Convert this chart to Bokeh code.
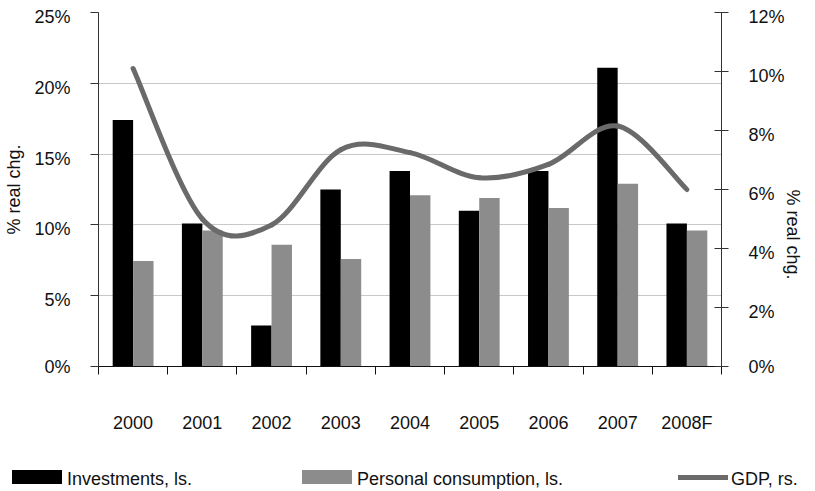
import math
from bokeh.plotting import figure
from bokeh.layouts import column
from bokeh.models import ColumnDataSource, Range1d, LinearAxis, FixedTicker, Div
from bokeh.transform import dodge
from bokeh.embed import file_html
from bokeh.resources import INLINE

# ---------------- data ----------------
years = ["2000", "2001", "2002", "2003", "2004", "2005", "2006", "2007", "2008F"]
investments = [17.4, 10.1, 2.9, 12.5, 13.8, 11.0, 13.8, 21.1, 10.1]
consumption = [7.45, 9.6, 8.6, 7.6, 12.1, 11.9, 11.2, 12.9, 9.6]
gdp = [10.1, 5.0, 4.8, 7.35, 7.25, 6.4, 6.85, 8.15, 6.0]

left_ticks = [0, 5, 10, 15, 20, 25]
left_tick_labels = ["0%", "5%", "10%", "15%", "20%", "25%"]
right_ticks = [0, 2, 4, 6, 8, 10, 12]
right_tick_labels = ["0%", "2%", "4%", "6%", "8%", "10%", "12%"]
axis_title = "% real chg."
series_names = ["Investments, ls.", "Personal consumption, ls.", "GDP, rs."]

FONT = "Liberation Sans"
TXT = "#111111"
AX = "#333333"
BLACK, GREY, LINE = "#000000", "#8c8c8c", "#6a6a6a"

n = len(years)
xc = [i + 0.5 for i in range(n)]          # category centres on a numeric axis
src = ColumnDataSource(dict(xc=xc, year=years, inv=investments, cons=consumption))

LMAX, RMAX = 25, 12
p = figure(x_range=Range1d(0, n), y_range=Range1d(0, LMAX), width=815, height=462,
           output_backend="svg", toolbar_location=None,
           x_axis_location="below", y_axis_location="left",
           min_border_left=98, min_border_right=85, min_border_top=12, min_border_bottom=96)
p.outline_line_color = None
p.background_fill_color = "white"
p.border_fill_color = "white"

# label axes are drawn on ranges offset a few pixels so the labels sit just below the ticks
lshift = 0.318   # ~4.5 px on the left scale
rshift = 0.153   # ~4.5 px on the right scale
p.extra_y_ranges = {"gdp": Range1d(0, RMAX),
                    "lbl": Range1d(lshift, LMAX + lshift),
                    "glbl": Range1d(rshift, RMAX + rshift)}

# grid
p.xgrid.visible = False
p.ygrid.ticker = FixedTicker(ticks=left_ticks)
p.ygrid.grid_line_color = "#c8c8c8"
p.ygrid.grid_line_width = 1


def blank(ticks):
    return {t: "" for t in ticks}


# left axis: line + ticks
ya = p.yaxis[0]
ya.ticker = FixedTicker(ticks=left_ticks)
ya.major_tick_out = 8
ya.major_tick_in = 0
ya.minor_tick_line_color = None
ya.major_label_overrides = blank(left_ticks)
ya.major_label_standoff = 0
ya.axis_line_color = AX
ya.major_tick_line_color = AX

# left axis: labels + title (the lowest label is kept at the range start)
yl_ticks = [max(t, lshift) for t in left_ticks]
yl = LinearAxis(y_range_name="lbl", ticker=FixedTicker(ticks=yl_ticks),
                major_label_overrides=dict(zip(yl_ticks, left_tick_labels)),
                major_tick_line_color=None, minor_tick_line_color=None, axis_line_color=None,
                major_label_standoff=14, bounds=(lshift, LMAX),
                major_label_text_font=FONT, major_label_text_font_size="18px",
                major_label_text_color=TXT,
                axis_label=axis_title, axis_label_standoff=7,
                axis_label_text_font=FONT, axis_label_text_font_size="18px",
                axis_label_text_font_style="normal", axis_label_text_color=TXT)
p.add_layout(yl, "left")

# right axis: line + ticks
ra = LinearAxis(y_range_name="gdp", ticker=FixedTicker(ticks=right_ticks),
                major_tick_out=7, major_tick_in=7, minor_tick_line_color=None,
                major_label_overrides=blank(right_ticks), major_label_standoff=0,
                axis_line_color=AX, major_tick_line_color=AX)
p.add_layout(ra, "right")

# right axis: labels
rl_ticks = [max(t, rshift) for t in right_ticks]
rl = LinearAxis(y_range_name="glbl", ticker=FixedTicker(ticks=rl_ticks),
                major_label_overrides=dict(zip(rl_ticks, right_tick_labels)),
                major_tick_line_color=None, minor_tick_line_color=None, axis_line_color=None,
                major_label_standoff=14, bounds=(rshift, RMAX),
                major_label_text_font=FONT, major_label_text_font_size="18px",
                major_label_text_color=TXT)
p.add_layout(rl, "right")

# right axis: title only (reads bottom-to-top like the left one)
rt = LinearAxis(y_range_name="gdp", ticker=FixedTicker(ticks=[]),
                major_tick_line_color=None, minor_tick_line_color=None, axis_line_color=None,
                major_label_standoff=0, bounds=(2.4, RMAX),
                axis_label=axis_title, axis_label_standoff=5,
                axis_label_text_font=FONT, axis_label_text_font_size="18px",
                axis_label_text_font_style="normal", axis_label_text_color=TXT)
try:
    rt.axis_label_orientation = -math.pi / 2
except Exception:
    pass
p.add_layout(rt, "right")

# bottom axis: line + ticks at category boundaries
xa = p.xaxis[0]
xa.ticker = FixedTicker(ticks=list(range(n + 1)))
xa.major_tick_out = 8
xa.major_tick_in = 0
xa.minor_tick_line_color = None
xa.major_label_overrides = blank(list(range(n + 1)))
xa.major_label_standoff = 0
xa.axis_line_color = "#111111"
xa.major_tick_line_color = "#111111"

# bottom axis: year labels at category centres
xl = LinearAxis(ticker=FixedTicker(ticks=xc),
                major_label_overrides=dict(zip(xc, years)),
                major_tick_line_color=None, minor_tick_line_color=None, axis_line_color=None,
                major_label_standoff=32,
                major_label_text_font=FONT, major_label_text_font_size="18px",
                major_label_text_color=TXT)
p.add_layout(xl, "below")

# bars
bw = 0.295
p.vbar(x=dodge("xc", -bw / 2), top="inv", width=bw, bottom=0,
       source=src, fill_color=BLACK, line_color=None)
p.vbar(x=dodge("xc", bw / 2), top="cons", width=bw, bottom=0,
       source=src, fill_color=GREY, line_color=None)

# smoothed GDP line (Catmull-Rom bezier through the data points)
bz = dict(x0=[], y0=[], x1=[], y1=[], cx0=[], cy0=[], cx1=[], cy1=[])
for i in range(n - 1):
    a, b = max(i - 1, 0), min(i + 2, n - 1)
    bz["x0"].append(xc[i]); bz["y0"].append(gdp[i])
    bz["x1"].append(xc[i + 1]); bz["y1"].append(gdp[i + 1])
    bz["cx0"].append(xc[i] + (xc[i + 1] - xc[a]) / 6)
    bz["cy0"].append(gdp[i] + (gdp[i + 1] - gdp[a]) / 6)
    bz["cx1"].append(xc[i + 1] - (xc[b] - xc[i]) / 6)
    bz["cy1"].append(gdp[i + 1] - (gdp[b] - gdp[i]) / 6)
p.bezier(x0="x0", y0="y0", x1="x1", y1="y1", cx0="cx0", cy0="cy0", cx1="cx1", cy1="cy1",
         source=ColumnDataSource(bz), y_range_name="gdp",
         line_color=LINE, line_width=5, line_cap="round")

# legend strip below the chart
sw = "position:absolute;width:50px;"
tx = "position:absolute;top:7px;white-space:nowrap;"
legend_html = (
    "<div style=\"position:relative;width:815px;height:29px;"
    "font-family:'Liberation Sans',Arial,sans-serif;font-size:18px;line-height:1.15;"
    f"color:{TXT};\">"
    f"<div style=\"{sw}left:12px;top:8px;height:14px;background:{BLACK};\"></div>"
    f"<div style=\"{tx}left:67px;\">{series_names[0]}</div>"
    f"<div style=\"{sw}left:302px;top:8px;height:14px;background:{GREY};\"></div>"
    f"<div style=\"{tx}left:357px;\">{series_names[1]}</div>"
    f"<div style=\"{sw}left:678px;top:13px;height:5px;background:{LINE};\"></div>"
    f"<div style=\"{tx}left:731px;\">{series_names[2]}</div>"
    "</div>"
)
legend_div = Div(text=legend_html, width=815, height=29, margin=0)

layout = column(p, legend_div, spacing=0)
open("out.html", "w").write(file_html(layout, INLINE))
